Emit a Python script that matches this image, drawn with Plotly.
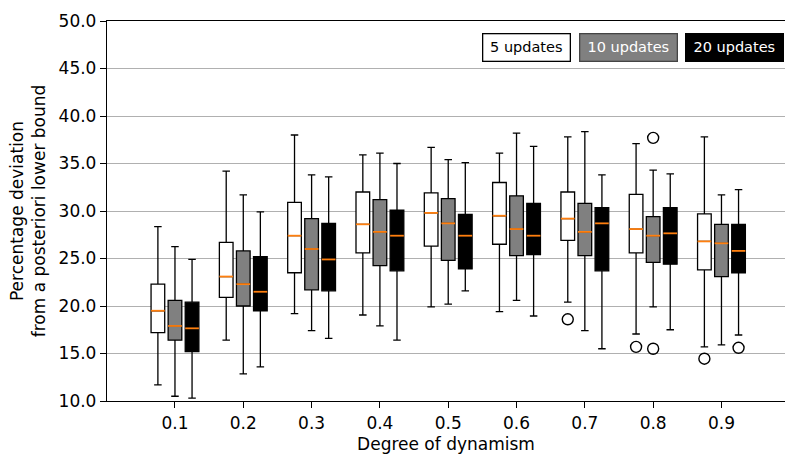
import plotly.graph_objects as go

categories = ["0.1", "0.2", "0.3", "0.4", "0.5", "0.6", "0.7", "0.8", "0.9"]
series_names = ["5 updates", "10 updates", "20 updates"]

q1_5 = [17.2, 20.9, 23.5, 25.6, 26.3, 26.5, 26.9, 25.6, 23.8]
med_5 = [19.5, 23.1, 27.4, 28.6, 29.8, 29.5, 29.2, 28.1, 26.8]
q3_5 = [22.3, 26.7, 30.9, 32.0, 31.9, 33.0, 32.0, 31.75, 29.7]
lo_5 = [11.7, 16.4, 19.2, 19.05, 19.9, 19.4, 20.4, 17.05, 15.7]
hi_5 = [28.35, 34.2, 38.0, 35.9, 36.7, 36.1, 37.8, 37.1, 37.8]

q1_10 = [16.4, 20.0, 21.7, 24.25, 24.8, 25.3, 25.3, 24.6, 23.1]
med_10 = [17.9, 22.3, 26.0, 27.8, 28.7, 28.1, 27.8, 27.4, 26.6]
q3_10 = [20.6, 25.8, 29.2, 31.2, 31.3, 31.6, 30.8, 29.4, 28.6]
lo_10 = [10.5, 12.85, 17.4, 17.9, 20.2, 20.6, 17.4, 19.9, 15.9]
hi_10 = [26.25, 31.7, 33.8, 36.1, 35.4, 38.2, 38.35, 34.3, 31.7]

q1_20 = [15.2, 19.5, 21.6, 23.7, 23.9, 25.4, 23.7, 24.4, 23.5]
med_20 = [17.65, 21.5, 24.9, 27.4, 27.4, 27.4, 28.7, 27.65, 25.8]
q3_20 = [20.4, 25.2, 28.7, 30.1, 29.65, 30.8, 30.35, 30.35, 28.6]
lo_20 = [10.3, 13.6, 16.6, 16.4, 21.6, 18.95, 15.5, 17.5, 16.95]
hi_20 = [24.9, 29.9, 33.6, 35.0, 35.1, 36.8, 33.8, 33.9, 32.25]

# outliers: category label and value
out_5_cat = ["0.7", "0.8", "0.9"]
out_5_val = [18.6, 15.7, 14.45]
out_10_cat = ["0.8", "0.8"]
out_10_val = [37.7, 15.5]
out_20_cat = ["0.9"]
out_20_val = [15.6]

y_ticks = [10.0, 15.0, 20.0, 25.0, 30.0, 35.0, 40.0, 45.0, 50.0]

# styling
fills = ["#ffffff", "#808080", "#000000"]
legend_text = ["#000000", "#ffffff", "#ffffff"]
legend_border = ["#000000", "#444444", "#000000"]
offsets = [-0.25, 0.0, 0.25]
box_w = 0.2
FONT = "DejaVu Sans"

pos = {c: i + 1 for i, c in enumerate(categories)}

series = [
    (q1_5, med_5, q3_5, lo_5, hi_5, out_5_cat, out_5_val),
    (q1_10, med_10, q3_10, lo_10, hi_10, out_10_cat, out_10_val),
    (q1_20, med_20, q3_20, lo_20, hi_20, out_20_cat, out_20_val),
]

fig = go.Figure()
for k, (q1, med, q3, lo, hi, oc, ov) in enumerate(series):
    xs = [pos[c] + offsets[k] for c in categories]
    fig.add_trace(go.Box(
        x=xs, q1=q1, median=med, q3=q3, lowerfence=lo, upperfence=hi,
        width=box_w, whiskerwidth=0.55, fillcolor=fills[k],
        line=dict(color="#000000", width=1.3), boxpoints=False,
        name=series_names[k], showlegend=False, hoverinfo="skip",
    ))
    # orange median lines
    mx, my = [], []
    for x, m in zip(xs, med):
        mx += [x - box_w / 2, x + box_w / 2, None]
        my += [m, m, None]
    fig.add_trace(go.Scatter(x=mx, y=my, mode="lines",
                             line=dict(color="#ff7f0e", width=1.8),
                             showlegend=False, hoverinfo="skip"))
    # outliers
    fig.add_trace(go.Scatter(
        x=[pos[c] + offsets[k] for c in oc], y=ov, mode="markers",
        marker=dict(symbol="circle-open", size=11, color="#000000",
                    line=dict(width=1.4, color="#000000")),
        showlegend=False, hoverinfo="skip"))

W, H = 785, 454
L, R, T, B = 107, 0, 21, 53
pw, ph = W - L - R, H - T - B

# legend-like labels
leg_centers = [526.7, 628.3, 734.2]
leg_widths = [86, 96, 96]
for k in range(3):
    fig.add_annotation(
        x=(leg_centers[k] - L) / pw, y=(H - B - 47.2) / ph,
        xref="paper", yref="paper", xanchor="center", yanchor="middle",
        text=series_names[k], showarrow=False,
        font=dict(family=FONT, size=14.5, color=legend_text[k]),
        bgcolor=fills[k], bordercolor=legend_border[k], borderwidth=1.3,
        width=leg_widths[k], height=26, borderpad=0,
    )

fig.update_layout(
    width=W, height=H,
    margin=dict(l=L, r=R, t=T, b=B),
    plot_bgcolor="#ffffff", paper_bgcolor="#ffffff",
    font=dict(family=FONT, size=17, color="#000000"),
    boxmode="overlay",
)
fig.update_xaxes(
    range=[0.005, 9.93], tickmode="array",
    tickvals=[pos[c] for c in categories], ticktext=categories,
    ticks="outside", ticklen=6, tickwidth=1.2, tickcolor="#000000",
    showline=True, linecolor="#000000", linewidth=1.3, mirror=True,
    showgrid=False, zeroline=False,
    title=dict(text="Degree of dynamism", font=dict(size=17), standoff=6),
)
fig.update_yaxes(
    range=[10, 50], tickmode="array", tickvals=y_ticks,
    ticktext=[f"{v:.1f}" for v in y_ticks],
    ticks="outside", ticklen=6, tickwidth=1.2, tickcolor="#000000",
    showline=True, linecolor="#000000", linewidth=1.3, mirror=False,
    showgrid=True, gridcolor="#b0b0b0", gridwidth=1, zeroline=False,
    title=dict(text="Percentage deviation<br>from a posteriori lower bound",
               font=dict(size=17), standoff=8),
)

fig.write_html("out.html")
